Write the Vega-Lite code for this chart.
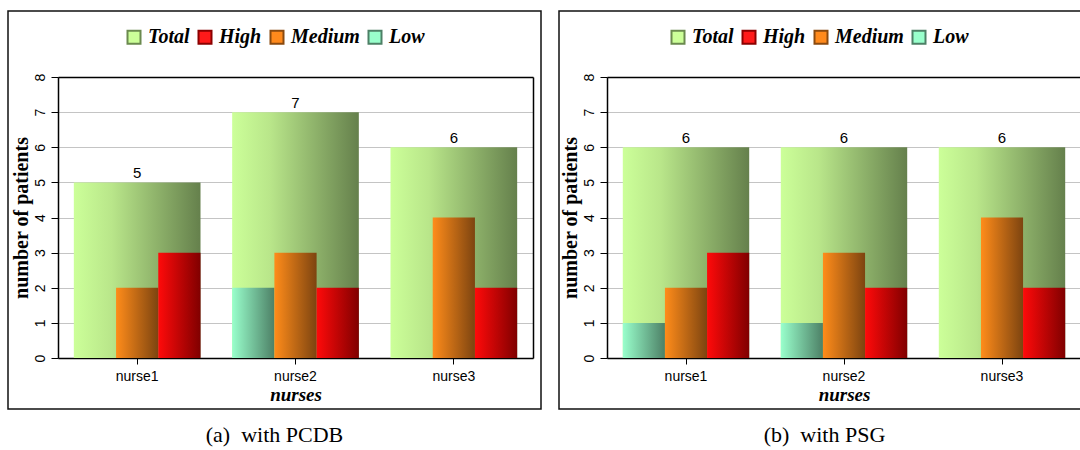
{
  "$schema": "https://vega.github.io/schema/vega-lite/v6.json",
  "padding": {"left": 7, "top": 10, "right": 0, "bottom": 0},
  "spacing": 16,
  "datasets": {
    "counts": [
      {"panel": "a", "nurse": "nurse1", "level": "Total", "value": 5},
      {"panel": "a", "nurse": "nurse1", "level": "High", "value": 3},
      {"panel": "a", "nurse": "nurse1", "level": "Medium", "value": 2},
      {"panel": "a", "nurse": "nurse1", "level": "Low", "value": 0},
      {"panel": "a", "nurse": "nurse2", "level": "Total", "value": 7},
      {"panel": "a", "nurse": "nurse2", "level": "High", "value": 2},
      {"panel": "a", "nurse": "nurse2", "level": "Medium", "value": 3},
      {"panel": "a", "nurse": "nurse2", "level": "Low", "value": 2},
      {"panel": "a", "nurse": "nurse3", "level": "Total", "value": 6},
      {"panel": "a", "nurse": "nurse3", "level": "High", "value": 2},
      {"panel": "a", "nurse": "nurse3", "level": "Medium", "value": 4},
      {"panel": "a", "nurse": "nurse3", "level": "Low", "value": 0},
      {"panel": "b", "nurse": "nurse1", "level": "Total", "value": 6},
      {"panel": "b", "nurse": "nurse1", "level": "High", "value": 3},
      {"panel": "b", "nurse": "nurse1", "level": "Medium", "value": 2},
      {"panel": "b", "nurse": "nurse1", "level": "Low", "value": 1},
      {"panel": "b", "nurse": "nurse2", "level": "Total", "value": 6},
      {"panel": "b", "nurse": "nurse2", "level": "High", "value": 2},
      {"panel": "b", "nurse": "nurse2", "level": "Medium", "value": 3},
      {"panel": "b", "nurse": "nurse2", "level": "Low", "value": 1},
      {"panel": "b", "nurse": "nurse3", "level": "Total", "value": 6},
      {"panel": "b", "nurse": "nurse3", "level": "High", "value": 2},
      {"panel": "b", "nurse": "nurse3", "level": "Medium", "value": 4},
      {"panel": "b", "nurse": "nurse3", "level": "Low", "value": 0}
    ]
  },
  "data": {"name": "counts"},
  "hconcat": [
    {
      "width": 533,
      "height": 398,
      "title": {"text": "(a)\u00a0 with PCDB", "orient": "bottom", "anchor": "middle", "offset": 16, "font": "Liberation Serif", "fontSize": 22, "fontWeight": "normal", "color": "#000"},
      "transform": [{"filter": "datum.panel === 'a'"}],
      "resolve": {"axis": {"x": "independent", "y": "independent"}},
      "layer": [
        {
          "transform": [{"filter": "datum.level === 'Total'"}],
          "mark": {"type": "bar", "color": {"gradient": "linear", "x1": 0, "y1": 0, "x2": 1, "y2": 0, "stops": [{"offset": 0, "color": "#ccff99"}, {"offset": 0.3, "color": "#b9e68a"}, {"offset": 1, "color": "#65804c"}]}},
          "encoding": {
            "x": {"field": "nurse", "type": "nominal", "scale": {"range": [50, 525], "paddingInner": 0.2, "paddingOuter": 0.1},
              "axis": {"orient": "bottom", "offset": -51, "labelAngle": 0, "labelFont": "Liberation Sans", "labelFontSize": 14, "labelPadding": 5, "labelColor": "#000", "tickSize": 6, "tickColor": "#000", "domainWidth": 1.5, "domainColor": "#000", "title": "nurses", "titleFont": "Liberation Serif", "titleFontSize": 19, "titleFontWeight": "bold", "titleFontStyle": "italic", "titlePadding": 2, "titleColor": "#000", "grid": false}},
            "y": {"field": "value", "type": "quantitative", "scale": {"domain": [0, 8], "range": [347, 66], "nice": false, "zero": true},
              "axis": {"orient": "left", "offset": -50, "values": [0, 1, 2, 3, 4, 5, 6, 7, 8], "grid": true, "gridColor": "#c4c4c4", "gridWidth": 1, "domainColor": "#000", "domainWidth": 1.5, "tickColor": "#000", "tickSize": 7, "labelAngle": 270, "labelFont": "Liberation Sans", "labelFontSize": 14, "labelPadding": 4, "labelColor": "#000", "title": "number of patients", "titleFont": "Liberation Serif", "titleFontSize": 20, "titleFontWeight": "bold", "titlePadding": 2, "titleColor": "#000"}}
          }
        },
        {
          "transform": [{"filter": "datum.level === 'Low'"}],
          "mark": {"type": "bar", "color": {"gradient": "linear", "x1": 0, "y1": 0, "x2": 1, "y2": 0, "stops": [{"offset": 0, "color": "#99ffcc"}, {"offset": 1, "color": "#4d8066"}]}},
          "encoding": {
            "x": {"field": "nurse", "type": "nominal", "axis": null},
            "xOffset": {"field": "level", "scale": {"domain": ["Low", "Medium", "High"], "paddingInner": 0, "paddingOuter": 0}},
            "y": {"field": "value", "type": "quantitative", "axis": null}
          }
        },
        {
          "transform": [{"filter": "datum.level === 'Medium'"}],
          "mark": {"type": "bar", "color": {"gradient": "linear", "x1": 0, "y1": 0, "x2": 1, "y2": 0, "stops": [{"offset": 0, "color": "#ff8c1a"}, {"offset": 1, "color": "#7d4410"}]}},
          "encoding": {
            "x": {"field": "nurse", "type": "nominal", "axis": null},
            "xOffset": {"field": "level", "scale": {"domain": ["Low", "Medium", "High"], "paddingInner": 0, "paddingOuter": 0}},
            "y": {"field": "value", "type": "quantitative", "axis": null}
          }
        },
        {
          "transform": [{"filter": "datum.level === 'High'"}],
          "mark": {"type": "bar", "color": {"gradient": "linear", "x1": 0, "y1": 0, "x2": 1, "y2": 0, "stops": [{"offset": 0, "color": "#ff0a0a"}, {"offset": 1, "color": "#800000"}]}},
          "encoding": {
            "x": {"field": "nurse", "type": "nominal", "axis": null},
            "xOffset": {"field": "level", "scale": {"domain": ["Low", "Medium", "High"], "paddingInner": 0, "paddingOuter": 0}},
            "y": {"field": "value", "type": "quantitative", "axis": null}
          }
        },
        {
          "transform": [{"filter": "datum.level === 'Total'"}],
          "mark": {"type": "text", "baseline": "bottom", "dy": -1, "font": "Liberation Sans", "fontSize": 15, "color": "#000"},
          "encoding": {
            "x": {"field": "nurse", "type": "nominal", "axis": {"orient": "top", "offset": -66, "labels": false, "ticks": false, "title": null, "grid": false, "domainWidth": 1.5, "domainColor": "#000"}},
            "y": {"field": "value", "type": "quantitative", "axis": {"orient": "right", "offset": -8, "labels": false, "ticks": false, "title": null, "grid": false, "domainWidth": 1.5, "domainColor": "#000"}},
            "text": {"field": "value", "type": "quantitative"}
          }
        },
        {
          "mark": {"type": "square", "opacity": 0},
          "encoding": {
            "fill": {"field": "level", "type": "nominal", "scale": {"domain": ["Total", "High", "Medium", "Low"], "range": ["#ccff99", "#ff1a1a", "#ff8a1c", "#99ffcc"]},
              "legend": {"orient": "none", "legendX": 116, "legendY": 16, "direction": "horizontal", "title": null, "labelFont": "Liberation Serif", "labelFontSize": 20, "labelFontStyle": "italic", "labelFontWeight": "bold", "labelColor": "#000", "symbolType": "square", "symbolSize": 169, "symbolStrokeWidth": 2, "symbolOpacity": 1, "labelOffset": 4, "columnPadding": 4, "padding": 0}},
            "stroke": {"field": "level", "type": "nominal", "scale": {"domain": ["Total", "High", "Medium", "Low"], "range": ["#6b8a4f", "#8b0000", "#8a4a0f", "#4d8066"]},
              "legend": {"orient": "none", "legendX": 116, "legendY": 16, "direction": "horizontal", "title": null, "labelFont": "Liberation Serif", "labelFontSize": 20, "labelFontStyle": "italic", "labelFontWeight": "bold", "labelColor": "#000", "symbolType": "square", "symbolSize": 169, "symbolStrokeWidth": 2, "symbolOpacity": 1, "labelOffset": 4, "columnPadding": 4, "padding": 0}}
          }
        }
      ]
    },
    {
      "width": 523,
      "height": 398,
      "title": {"text": "(b)\u00a0 with PSG", "orient": "bottom", "anchor": "middle", "offset": 16, "dx": 4, "font": "Liberation Serif", "fontSize": 22, "fontWeight": "normal", "color": "#000"},
      "transform": [{"filter": "datum.panel === 'b'"}],
      "resolve": {"axis": {"x": "independent", "y": "independent"}},
      "layer": [
        {
          "transform": [{"filter": "datum.level === 'Total'"}],
          "mark": {"type": "bar", "color": {"gradient": "linear", "x1": 0, "y1": 0, "x2": 1, "y2": 0, "stops": [{"offset": 0, "color": "#ccff99"}, {"offset": 0.3, "color": "#b9e68a"}, {"offset": 1, "color": "#65804c"}]}},
          "encoding": {
            "x": {"field": "nurse", "type": "nominal", "scale": {"range": [48, 522], "paddingInner": 0.2, "paddingOuter": 0.1},
              "axis": {"orient": "bottom", "offset": -51, "labelAngle": 0, "labelFont": "Liberation Sans", "labelFontSize": 14, "labelPadding": 5, "labelColor": "#000", "tickSize": 6, "tickColor": "#000", "domainWidth": 1.5, "domainColor": "#000", "title": "nurses", "titleFont": "Liberation Serif", "titleFontSize": 19, "titleFontWeight": "bold", "titleFontStyle": "italic", "titlePadding": 2, "titleColor": "#000", "grid": false}},
            "y": {"field": "value", "type": "quantitative", "scale": {"domain": [0, 8], "range": [347, 66], "nice": false, "zero": true},
              "axis": {"orient": "left", "offset": -48, "values": [0, 1, 2, 3, 4, 5, 6, 7, 8], "grid": true, "gridColor": "#c4c4c4", "gridWidth": 1, "domainColor": "#000", "domainWidth": 1.5, "tickColor": "#000", "tickSize": 7, "labelAngle": 270, "labelFont": "Liberation Sans", "labelFontSize": 14, "labelPadding": 4, "labelColor": "#000", "title": "number of patients", "titleFont": "Liberation Serif", "titleFontSize": 20, "titleFontWeight": "bold", "titlePadding": 2, "titleColor": "#000"}}
          }
        },
        {
          "transform": [{"filter": "datum.level === 'Low'"}],
          "mark": {"type": "bar", "color": {"gradient": "linear", "x1": 0, "y1": 0, "x2": 1, "y2": 0, "stops": [{"offset": 0, "color": "#99ffcc"}, {"offset": 1, "color": "#4d8066"}]}},
          "encoding": {
            "x": {"field": "nurse", "type": "nominal", "axis": null},
            "xOffset": {"field": "level", "scale": {"domain": ["Low", "Medium", "High"], "paddingInner": 0, "paddingOuter": 0}},
            "y": {"field": "value", "type": "quantitative", "axis": null}
          }
        },
        {
          "transform": [{"filter": "datum.level === 'Medium'"}],
          "mark": {"type": "bar", "color": {"gradient": "linear", "x1": 0, "y1": 0, "x2": 1, "y2": 0, "stops": [{"offset": 0, "color": "#ff8c1a"}, {"offset": 1, "color": "#7d4410"}]}},
          "encoding": {
            "x": {"field": "nurse", "type": "nominal", "axis": null},
            "xOffset": {"field": "level", "scale": {"domain": ["Low", "Medium", "High"], "paddingInner": 0, "paddingOuter": 0}},
            "y": {"field": "value", "type": "quantitative", "axis": null}
          }
        },
        {
          "transform": [{"filter": "datum.level === 'High'"}],
          "mark": {"type": "bar", "color": {"gradient": "linear", "x1": 0, "y1": 0, "x2": 1, "y2": 0, "stops": [{"offset": 0, "color": "#ff0a0a"}, {"offset": 1, "color": "#800000"}]}},
          "encoding": {
            "x": {"field": "nurse", "type": "nominal", "axis": null},
            "xOffset": {"field": "level", "scale": {"domain": ["Low", "Medium", "High"], "paddingInner": 0, "paddingOuter": 0}},
            "y": {"field": "value", "type": "quantitative", "axis": null}
          }
        },
        {
          "transform": [{"filter": "datum.level === 'Total'"}],
          "mark": {"type": "text", "baseline": "bottom", "dy": -1, "font": "Liberation Sans", "fontSize": 15, "color": "#000"},
          "encoding": {
            "x": {"field": "nurse", "type": "nominal", "axis": {"orient": "top", "offset": -66, "labels": false, "ticks": false, "title": null, "grid": false, "domainWidth": 1.5, "domainColor": "#000"}},
            "y": {"field": "value", "type": "quantitative", "axis": {"orient": "right", "offset": -1, "labels": false, "ticks": false, "title": null, "grid": false, "domainWidth": 1.5, "domainColor": "#000"}},
            "text": {"field": "value", "type": "quantitative"}
          }
        },
        {
          "mark": {"type": "square", "opacity": 0},
          "encoding": {
            "fill": {"field": "level", "type": "nominal", "scale": {"domain": ["Total", "High", "Medium", "Low"], "range": ["#ccff99", "#ff1a1a", "#ff8a1c", "#99ffcc"]},
              "legend": {"orient": "none", "legendX": 109, "legendY": 16, "direction": "horizontal", "title": null, "labelFont": "Liberation Serif", "labelFontSize": 20, "labelFontStyle": "italic", "labelFontWeight": "bold", "labelColor": "#000", "symbolType": "square", "symbolSize": 169, "symbolStrokeWidth": 2, "symbolOpacity": 1, "labelOffset": 4, "columnPadding": 4, "padding": 0}},
            "stroke": {"field": "level", "type": "nominal", "scale": {"domain": ["Total", "High", "Medium", "Low"], "range": ["#6b8a4f", "#8b0000", "#8a4a0f", "#4d8066"]},
              "legend": {"orient": "none", "legendX": 109, "legendY": 16, "direction": "horizontal", "title": null, "labelFont": "Liberation Serif", "labelFontSize": 20, "labelFontStyle": "italic", "labelFontWeight": "bold", "labelColor": "#000", "symbolType": "square", "symbolSize": 169, "symbolStrokeWidth": 2, "symbolOpacity": 1, "labelOffset": 4, "columnPadding": 4, "padding": 0}}
          }
        }
      ]
    }
  ],
  "resolve": {
    "scale": {"fill": "independent", "stroke": "independent", "xOffset": "independent"},
    "legend": {"fill": "independent", "stroke": "independent"}
  },
  "config": {
    "view": {"stroke": "#111", "strokeWidth": 1.5},
    "font": "Liberation Sans"
  }
}
